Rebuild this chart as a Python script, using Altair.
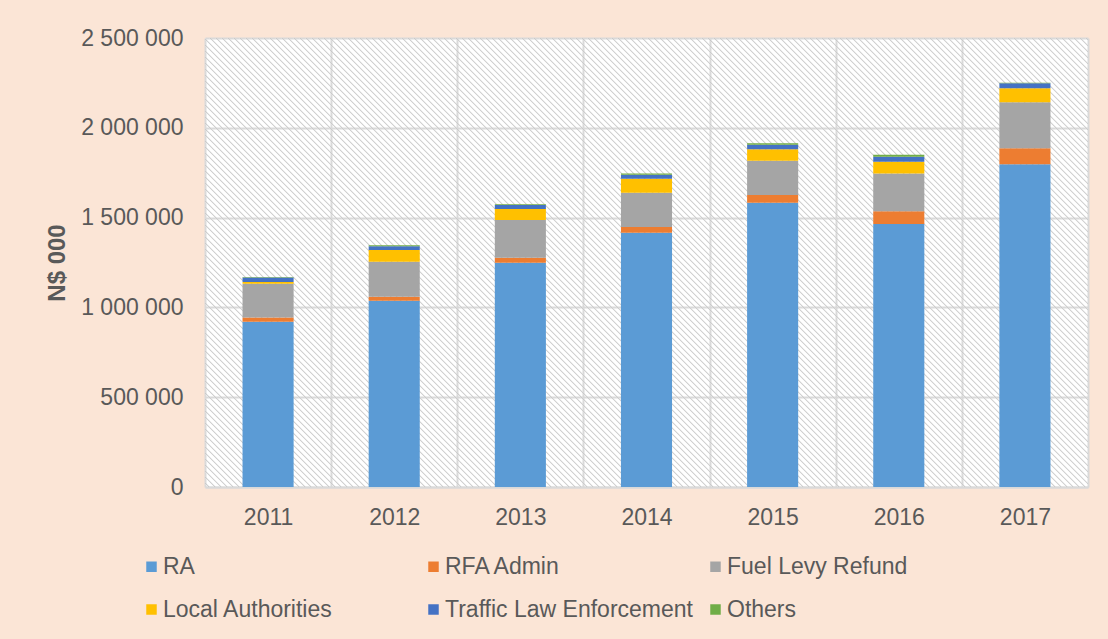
import altair as alt
import pandas as pd

years = ["2011", "2012", "2013", "2014", "2015", "2016", "2017"]
series = ["RA", "RFA Admin", "Fuel Levy Refund", "Local Authorities",
          "Traffic Law Enforcement", "Others"]
colors = ["#5B9BD5", "#ED7D31", "#A5A5A5", "#FFC000", "#4472C4", "#70AD47"]

ra = [920000, 1037000, 1249000, 1415000, 1583000, 1464000, 1797000]
rfa_admin = [24000, 22000, 28000, 32000, 43000, 72000, 89000]
fuel_levy = [187000, 195000, 210000, 191000, 191000, 210000, 256000]
local_auth = [11000, 65000, 61000, 78000, 63000, 65000, 78000]
traffic = [24000, 22000, 22000, 22000, 26000, 28000, 28000]
others = [3000, 5000, 5000, 8000, 8000, 11000, 3000]

y_ticks = [0, 500000, 1000000, 1500000, 2000000, 2500000]

values = [ra, rfa_admin, fuel_levy, local_auth, traffic, others]
rows = []
for si, (name, vals) in enumerate(zip(series, values)):
    for yr, v in zip(years, vals):
        rows.append({"year": yr, "series": name, "value": v, "order": si})
df = pd.DataFrame(rows)

# diagonal hatch for the plot background (styling only)
N = 222
stops = []
for k in range(N):
    stops.append({"offset": k / N, "color": "rgba(255,255,255,0)"})
    stops.append({"offset": (k + 0.4) / N, "color": "rgba(255,255,255,0)"})
    stops.append({"offset": (k + 0.7) / N, "color": "rgba(190,190,190,0.9)"})
stops.append({"offset": 1.0, "color": "rgba(255,255,255,0)"})
hatch = {"gradient": "linear", "x1": 0, "y1": 1, "x2": 1.1986, "y2": 0.3905,
         "stops": stops}

text_color = "#595959"
grid_color = "#D9D9D9"

bg = alt.Chart(alt.Data(values=[{"a": 1}])).mark_rect(fill=hatch).encode(
    x=alt.value(0), x2=alt.value("width"), y=alt.value(0), y2=alt.value("height")
)

bars = alt.Chart(df).mark_bar(width=alt.RelativeBandSize(0.405)).encode(
    x=alt.X("year:N", title=None,
            scale=alt.Scale(paddingInner=0, paddingOuter=0),
            axis=alt.Axis(labelAngle=0, tickBand="extent", grid=True,
                          gridColor=grid_color, gridWidth=2, ticks=False,
                          domainColor=grid_color, domainWidth=2,
                          labelPadding=19, labelFontSize=23,
                          labelColor=text_color)),
    y=alt.Y("value:Q", stack="zero", title="N$ 000",
            scale=alt.Scale(domain=[0, 2500000], nice=False),
            axis=alt.Axis(values=y_ticks, grid=True, gridColor=grid_color,
                          gridWidth=2, ticks=False, domain=False,
                          labelExpr="replace(format(datum.value, ','), /,/g, ' ')",
                          labelPadding=22, labelFontSize=23,
                          labelColor=text_color, titleFontSize=24,
                          titleFontWeight="bold", titleColor=text_color,
                          titlePadding=11)),
    color=alt.Color("series:N", scale=alt.Scale(domain=series, range=colors),
                    legend=alt.Legend(title=None, orient="none", legendX=-65,
                                      legendY=517, direction="horizontal",
                                      columns=3, gridAlign="all",
                                      symbolType="square", symbolSize=110,
                                      symbolStrokeWidth=0, labelOffset=0,
                                      columnPadding=11, rowPadding=19,
                                      labelFontSize=23, labelColor=text_color,
                                      labelLimit=500, padding=0)),
    order=alt.Order("order:Q", sort="ascending"),
)

chart = alt.layer(bg, bars).properties(
    width=883, height=449,
    autosize=alt.AutoSizeParams(type="none"),
    padding={"left": 205, "top": 38, "right": 20, "bottom": 152},
    background="#FBE5D6",
).configure(font="Liberation Sans").configure_view(fill="white", stroke=None)

chart.save("out.html", embed_options={"renderer": "svg", "actions": False})
